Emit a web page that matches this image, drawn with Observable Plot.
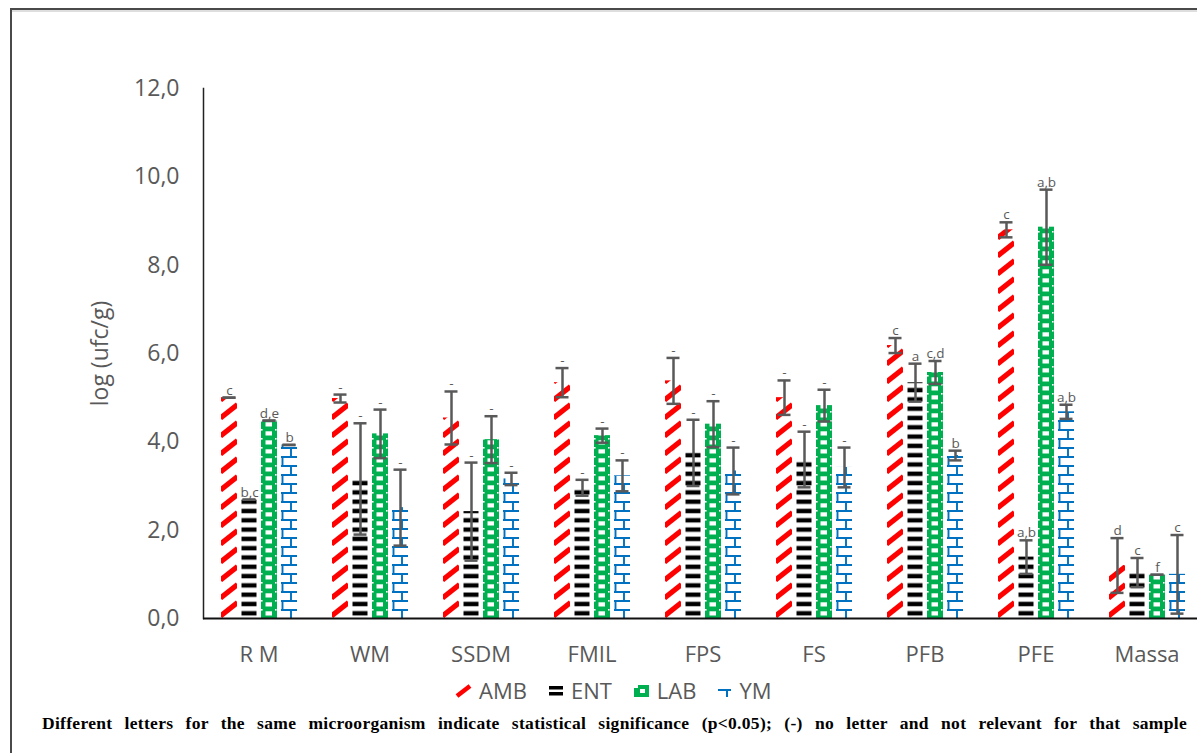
<!DOCTYPE html>
<html><head><meta charset="utf-8">
<script src="https://cdn.jsdelivr.net/npm/d3@7"></script>
<script src="https://cdn.jsdelivr.net/npm/@observablehq/plot@0.6"></script>
<style>
body{margin:0;background:#fff;}
#wrap{position:relative;width:1197px;height:753px;overflow:hidden;background:#fff;}
#frame{position:absolute;left:10px;top:8px;width:1400px;height:1000px;border-top:2px solid #4a4a4a;border-left:2px solid #4a4a4a;box-shadow:inset 0 2px 0 #dedede;}
#chart{position:absolute;left:0;top:0;}
#legend{position:absolute;top:676px;left:455px;height:28px;display:flex;align-items:center;font-family:"Open Sans";font-size:22px;color:#595959;}
#legend .item{display:flex;align-items:center;margin-right:21px;}
#legend svg{margin-right:7px;}
#caption{position:absolute;left:42px;width:1145px;top:713px;font-family:"Liberation Serif";font-weight:bold;font-size:17.5px;letter-spacing:0.3px;line-height:20px;text-align:justify;text-align-last:justify;color:#000;white-space:nowrap;}
</style>
</head><body>
<svg width="0" height="0" style="position:absolute">
<defs>
<pattern id="pAMB" patternUnits="userSpaceOnUse" width="16" height="18">
<rect width="16" height="18" fill="#fff"/>
<path d="M-0.5,16 L16.5,2.5" stroke="#ff0000" stroke-width="5.2"/>
</pattern>
<pattern id="pENT" patternUnits="userSpaceOnUse" width="16" height="9.3">
<rect width="16" height="9.3" fill="#fff"/>
<rect x="0.5" y="2.4" width="15" height="4.4" fill="#000"/>
</pattern>
<pattern id="pLAB" patternUnits="userSpaceOnUse" width="16" height="9">
<rect width="16" height="9" fill="#00b050"/>
<rect x="4.5" y="2.3" width="6.5" height="4.2" fill="#fff"/>
<rect x="0" y="0" width="1.6" height="1.6" fill="#fff"/>
<rect x="14" y="0" width="1.6" height="1.6" fill="#fff"/>
</pattern>
<pattern id="pYM" patternUnits="userSpaceOnUse" width="16" height="18">
<rect width="16" height="18" fill="#fff"/>
<path d="M0,1 H16 M0,10 H16 M1.5,1 V10 M10,10 V19" stroke="#0070c0" stroke-width="1.9" fill="none"/>
</pattern>
</defs>
</svg>
<div id="wrap">
<div id="frame"></div>
<div id="chart"></div>
<div id="legend">
<div class="item"><svg width="17" height="15"><path d="M2,13 L15,3" stroke="#ff0000" stroke-width="4.5"/></svg>AMB</div>
<div class="item"><svg width="16" height="15"><rect x="1" y="3" width="14" height="3.5" fill="#000"/><rect x="1" y="9" width="14" height="3.5" fill="#000"/></svg>ENT</div>
<div class="item"><svg width="17" height="15"><rect x="1" y="2" width="15" height="12" fill="#00b050"/><rect x="7" y="6" width="5" height="4" fill="#fff"/><rect x="1" y="2" width="4" height="3" fill="#fff"/></svg>LAB</div>
<div class="item"><svg width="15" height="15"><path d="M1,7 H14 M10,7 V14" stroke="#0070c0" stroke-width="2" fill="none"/></svg>YM</div>
</div>
<div id="caption">Different letters for the same microorganism indicate statistical significance (p&lt;0.05); (-) no letter and not relevant for that sample</div>
</div>
<script>
const categories = ["R M","WM","SSDM","FMIL","FPS","FS","PFB","PFE","Massa"];
const series = ["AMB","ENT","LAB","YM"];
const yTicks = [0,2,4,6,8,10,12];

const AMB     = [5.00, 4.98, 4.54, 5.34, 5.38, 5.00, 6.18, 8.80, 1.20];
const AMB_err = [0.00, 0.09, 0.60, 0.33, 0.52, 0.39, 0.17, 0.17, 0.62];
const ENT     = [2.69, 3.16, 2.42, 2.96, 3.75, 3.60, 5.34, 1.39, 1.04];
const ENT_err = [0.00, 1.26, 1.11, 0.18, 0.75, 0.63, 0.43, 0.38, 0.33];
const LAB     = [4.48, 4.18, 4.05, 4.14, 4.40, 4.82, 5.57, 8.86, 0.99];
const LAB_err = [0.00, 0.55, 0.53, 0.16, 0.52, 0.36, 0.26, 0.85, 0.00];
const YM      = [3.93, 2.51, 3.16, 3.23, 3.34, 3.42, 3.69, 4.68, 1.00];
const YM_err  = [0.00, 0.86, 0.14, 0.35, 0.53, 0.45, 0.11, 0.16, 0.89];

const AMB_letters = ["c","-","-","-","-","-","c","c","d"];
const ENT_letters = ["b,c","-","-","-","-","-","a","a,b","c"];
const LAB_letters = ["d,e","-","-","-","-","-","c,d","a,b","f"];
const YM_letters  = ["b","-","-","-","-","-","b","a,b","c"];

const seriesValues = [AMB, ENT, LAB, YM];
const seriesErrors = [AMB_err, ENT_err, LAB_err, YM_err];
const seriesLetters = [AMB_letters, ENT_letters, LAB_letters, YM_letters];
const patternUrls = ["url(#pAMB)","url(#pENT)","url(#pLAB)","url(#pYM)"];

const rows = [];
categories.forEach((c, i) => {
  series.forEach((s, j) => {
    const v = seriesValues[j][i], e = seriesErrors[j][i];
    rows.push({cat: c, series: s, value: v, lo: v - e, hi: v + e, letter: seriesLetters[j][i]});
  });
});

const fmt = d => d.toFixed(1).replace(".", ",");

const chart = Plot.plot({
  width: 1197,
  height: 672,
  marginLeft: 201,
  marginRight: -7,
  marginTop: 88,
  marginBottom: 54,
  style: {fontFamily: "'Open Sans'", color: "#595959", background: "transparent", overflow: "hidden"},
  fx: {domain: categories, padding: 0, label: null},
  x: {domain: series, paddingInner: 0.22, paddingOuter: 0.815, axis: null},
  y: {domain: [0, 12]},
  color: {domain: series, range: patternUrls},
  marks: [
    Plot.barY(rows, {fx: "cat", x: "series", y: "value", fill: "series"}),
    Plot.frame({anchor: "left", facetAnchor: "left", stroke: "#222", strokeWidth: 1.5}),
    Plot.ruleY([0], {stroke: "#111", strokeWidth: 2}),
    Plot.ruleX(rows, {fx: "cat", x: "series", y1: "lo", y2: "hi", stroke: "#595959", strokeWidth: 2.5}),
    Plot.tickY(rows, {fx: "cat", x: "series", y: "lo", stroke: "#595959", strokeWidth: 2.5, insetLeft: 1.5, insetRight: 1.5}),
    Plot.tickY(rows, {fx: "cat", x: "series", y: "hi", stroke: "#595959", strokeWidth: 2.5, insetLeft: 1.5, insetRight: 1.5}),
    Plot.text(rows, {fx: "cat", x: "series", y: "hi", text: "letter", lineAnchor: "bottom", dy: -3, fontSize: 13.5, fill: "#595959"}),
    Plot.axisY({ticks: yTicks, tickFormat: fmt, tickSize: 0, tickPadding: 24, fontSize: 23,
      label: "log (ufc/g)", labelAnchor: "center", labelArrow: "none", labelOffset: 112}),
    Plot.axisFx({anchor: "bottom", tickSize: 0, tickPadding: 28, fontSize: 22, label: null})
  ]
});
document.getElementById("chart").appendChild(chart);

// align each pattern's tiles with the bars Plot drew (local coordinates of the bar rects)
series.forEach((s, j) => {
  const r = chart.querySelector(`rect[fill="${patternUrls[j]}"]`);
  const p = document.getElementById("p" + s);
  if (r) {
    const bx = r.x.baseVal.value, bw = r.width.baseVal.value;
    const by = r.y.baseVal.value + r.height.baseVal.value;
    p.setAttribute("width", bw);
    p.setAttribute("x", bx);
    p.setAttribute("y", by);
  }
});
</script>
</body></html>
